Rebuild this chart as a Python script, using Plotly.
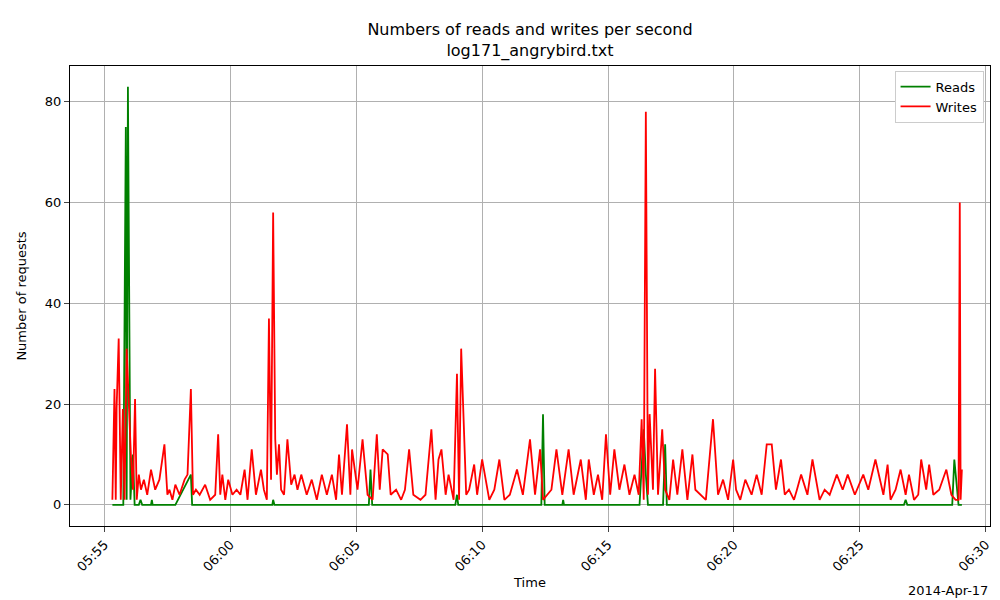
import pandas as pd
import plotly.graph_objects as go

start = pd.Timestamp("2014-04-17 05:55:00")

# seconds after 05:55:00 and number of requests
write_secs = [19, 22, 24, 27, 29, 34, 39, 44, 48, 53, 58, 63, 68, 73, 77, 82, 87, 94, 102, 111,
              121, 131, 143, 150, 155, 162, 169, 179, 191, 198, 206, 211, 218, 227, 240, 252, 264,
              271, 276, 281, 288, 295, 305, 315, 324, 334, 341, 351, 361, 373, 380, 387, 392, 397,
              402, 407, 411, 416, 421, 428, 436, 445, 453, 460, 469, 482, 494, 506, 518, 530, 542,
              552, 559, 566, 578, 586, 590, 603, 615, 627, 639, 649, 656, 663, 675, 682, 695, 707,
              716, 726, 736, 753, 765, 779, 789, 796, 803, 813, 820, 832, 840, 845, 850, 857, 862,
              869, 881, 888, 900, 917, 929, 941, 953, 966, 983, 997, 1014, 1026, 1038, 1045, 1055,
              1065, 1077, 1091, 1106, 1118, 1135, 1147, 1154, 1166, 1176, 1186, 1195, 1205, 1215,
              1227, 1239, 1251, 1263, 1273, 1280, 1285, 1290, 1295, 1299, 1307, 1312, 1319, 1329,
              1336, 1346, 1355, 1365, 1377, 1389, 1401, 1408, 1421, 1433, 1450, 1462, 1474, 1486,
              1498, 1505, 1515, 1527, 1542, 1554, 1566, 1578, 1590, 1600, 1612, 1621, 1631, 1643,
              1650, 1660, 1675, 1687, 1704, 1716, 1728, 1745, 1759, 1771, 1788, 1808, 1820, 1837,
              1856, 1866, 1873, 1885, 1897, 1909, 1917, 1929, 1939, 1946, 1958, 1965, 1975, 1989,
              2006, 2018, 2028, 2035, 2038, 2040, 2043]
write_vals = [1, 19, 23, 1, 19, 33, 1, 19, 1, 31, 19, 10, 3, 21, 1, 6, 3, 5, 2, 7,
              3, 5, 12, 2, 3, 1, 4, 2, 5, 6, 23, 2, 3, 2, 4, 1, 2,
              14, 2, 6, 1, 5, 2, 3, 2, 7, 1, 11, 2, 7, 3, 1, 37, 5,
              58, 13, 6, 12, 3, 2, 13, 4, 6, 3, 6, 2, 5, 1, 6, 2, 6,
              1, 10, 2, 16, 2, 11, 3, 13, 2, 1, 14, 3, 11, 10, 2, 3, 1,
              3, 11, 2, 1, 2, 15, 1, 9, 11, 2, 6, 1, 26, 1, 31, 12, 2,
              3, 8, 2, 9, 1, 3, 9, 1, 2, 7, 2, 13, 2, 11, 1, 2,
              3, 11, 2, 11, 2, 9, 1, 9, 2, 6, 1, 14, 2, 11,
              3, 8, 2, 6, 2, 17, 1, 78, 2, 18, 3, 27, 2, 15,
              3, 1, 9, 2, 11, 1, 10, 3, 2, 1, 17, 2, 5, 1,
              9, 3, 1, 5, 2, 6, 2, 12, 12, 3, 9, 2, 3, 1,
              3, 6, 2, 9, 1, 3, 2, 6, 3, 6, 2, 6, 3, 9,
              2, 8, 1, 3, 7, 2, 6, 1, 2, 9, 3, 8, 2, 3,
              7, 2, 1, 1, 60, 1, 7]

read_secs = [19, 45, 51, 53, 56, 60, 62, 68, 72, 82, 86, 90, 111, 113, 115, 169, 206, 209,
             400, 402, 405, 630, 634, 638, 836, 840, 843, 1041, 1045, 1049, 1091, 1093, 1095,
             1275, 1280, 1285, 1290, 1295, 1331, 1336, 1340, 1905, 1909, 1913, 2020, 2025,
             2035, 2043]
read_vals = [0, 0, 75, 1, 83, 30, 1, 10, 0, 0, 1, 0, 0, 1, 0, 0, 6, 0,
             0, 1, 0, 0, 7, 0, 0, 2, 0, 0, 18, 0, 0, 1, 0,
             0, 9, 15, 6, 0, 0, 12, 0, 0, 1, 0, 0, 9,
             0, 0]

write_t = [start + pd.Timedelta(seconds=s) for s in write_secs]
read_t = [start + pd.Timedelta(seconds=s) for s in read_secs]

fig = go.Figure()
fig.add_trace(go.Scatter(x=read_t, y=read_vals, mode="lines", name="Reads",
                         line=dict(color="green", width=1.8)))
fig.add_trace(go.Scatter(x=write_t, y=write_vals, mode="lines", name="Writes",
                         line=dict(color="red", width=1.8)))

fig.update_layout(
    width=1000, height=600, plot_bgcolor="white", paper_bgcolor="white",
    font=dict(family="DejaVu Sans", size=13, color="black"),
    margin=dict(l=62, r=18, t=58, b=82),
    title=dict(text="Numbers of reads and writes per second<br>log171_angrybird.txt",
               x=0.522, xanchor="center", y=0.955, yanchor="top", font=dict(size=16)),
    legend=dict(x=0.993, y=0.99, xanchor="right", yanchor="top",
                bordercolor="#cccccc", borderwidth=1, bgcolor="white", font=dict(size=13)),
    showlegend=True,
)
fig.update_xaxes(
    range=[start - pd.Timedelta(seconds=82), start + pd.Timedelta(seconds=2110)],
    tickformat="%H:%M", dtick=300000, tickangle=-45,
    showgrid=True, gridcolor="#b0b0b0", showline=True, linecolor="black", mirror=True,
    ticks="outside", title=dict(text="Time", standoff=4, font=dict(size=13)), zeroline=False,
)
fig.update_yaxes(
    range=[-4.2, 87.1], dtick=20,
    showgrid=True, gridcolor="#b0b0b0", showline=True, linecolor="black", mirror=True,
    ticks="outside", title=dict(text="Number of requests", font=dict(size=13)), zeroline=False,
)
fig.add_annotation(text="2014-Apr-17", xref="paper", yref="paper", x=1, y=-0.12,
                   xanchor="right", yanchor="top", showarrow=False, font=dict(size=13))

fig.write_html("out.html")
